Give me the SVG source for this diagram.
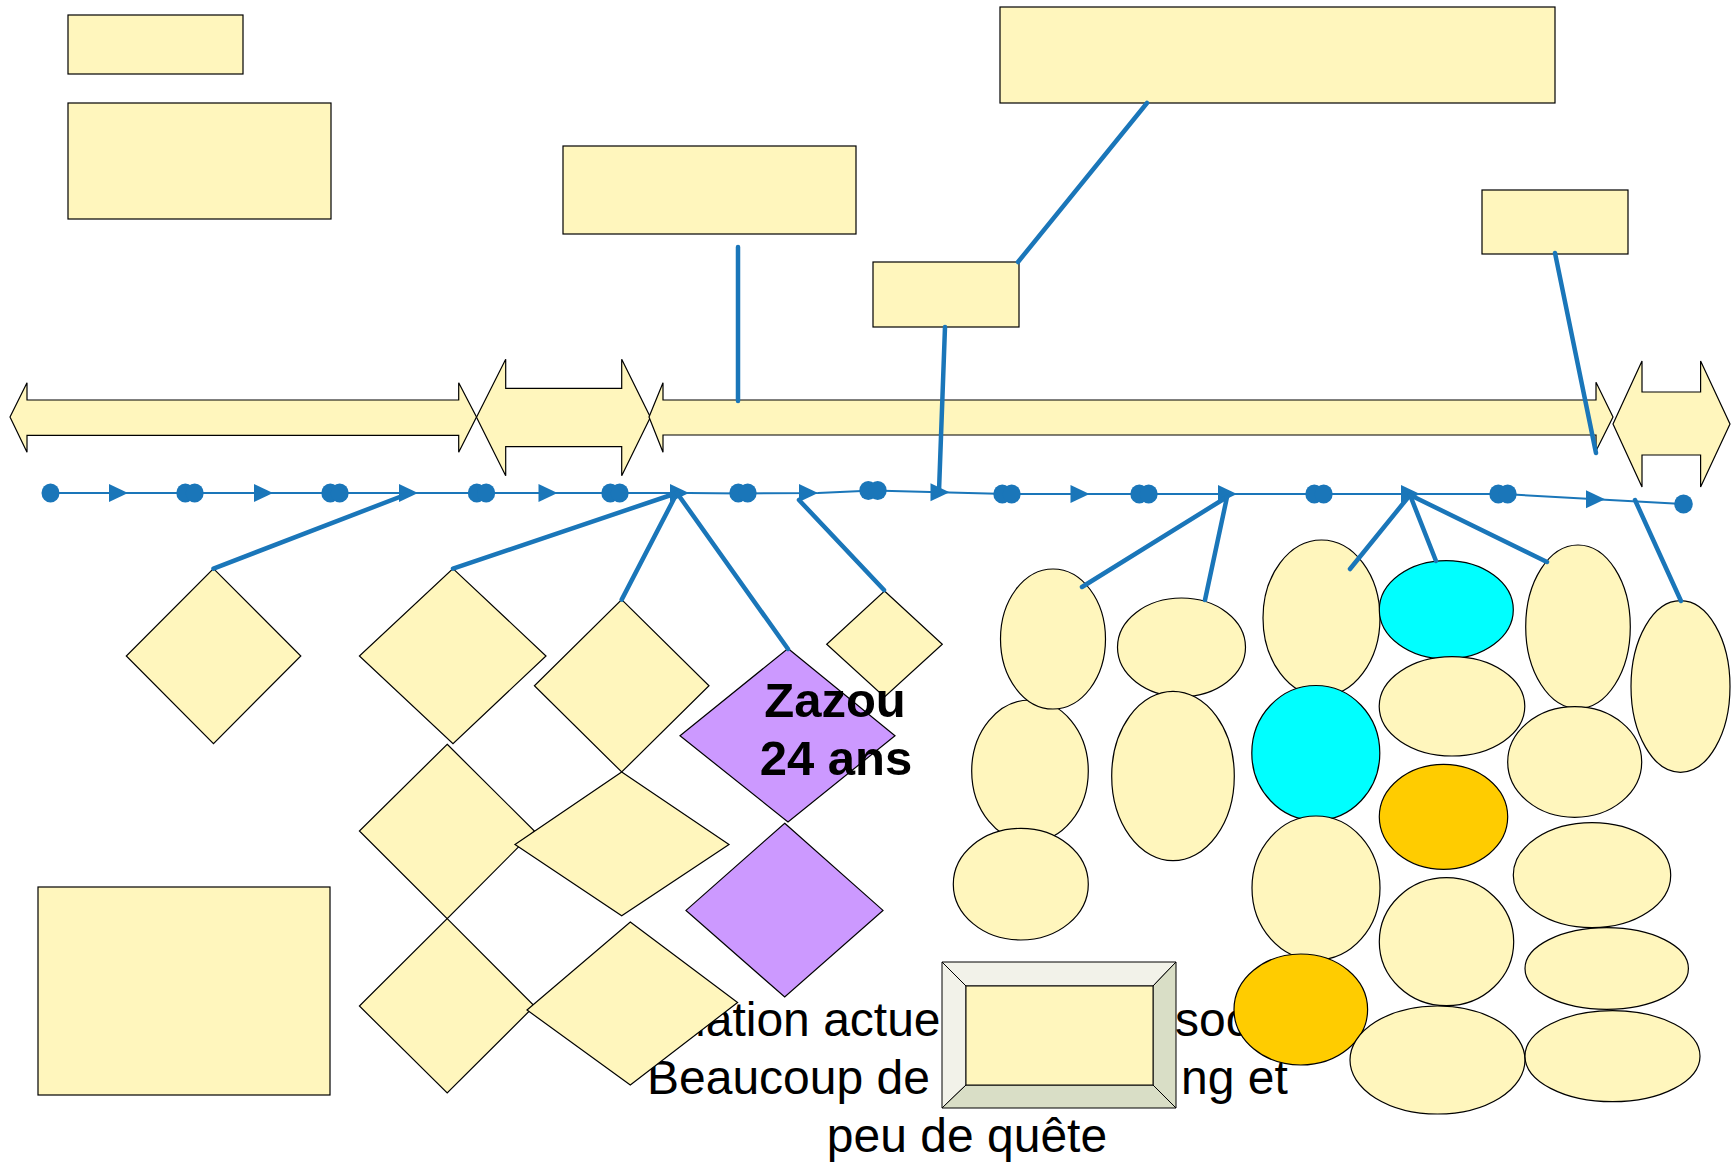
<svg xmlns="http://www.w3.org/2000/svg" width="1732" height="1167" viewBox="0 0 1732 1167">
<style>
.y{fill:#FFF6BD;stroke:#000;stroke-width:1.2}
.p{fill:#CC99FF;stroke:#000;stroke-width:1.2}
.c{fill:#00FFFF;stroke:#000;stroke-width:1.2}
.o{fill:#FFCC00;stroke:#000;stroke-width:1.2}
.con{stroke:#1A76B9;stroke-width:4.5;fill:none;stroke-linecap:round}
.tl{stroke:#1A76B9;stroke-width:2;fill:none}
.mk{fill:#1A76B9}
.t{font-family:"Liberation Sans",Arial,sans-serif;font-size:48px;fill:#000}
.b{font-weight:bold;font-size:49px}
</style>
<defs>
<g id="dd"><ellipse cx="-4.7" cy="0" rx="9" ry="9.5"/><ellipse cx="4.7" cy="0" rx="9" ry="9.5"/></g>
<polygon id="tri" points="0,-9 19,0 0,9"/>
</defs>
<rect width="1732" height="1167" fill="#fff"/>

<g id="text-situation">
<text class="t"><tspan x="623" y="1036">Situation actuelle de la</tspan><tspan x="1175" y="1036">société</tspan><tspan x="647" y="1094">Beaucoup de leveli</tspan><tspan x="1181" y="1094">ng et</tspan><tspan x="967" y="1152" text-anchor="middle">peu de quête</tspan></text>
</g>

<g id="arrows">
<polygon id="arrow-left" class="y" points="10,417 27,382.7 27,400 458.7,400 458.7,382.7 476.5,417 458.7,452.3 458.7,435.3 27,435.3 27,452.3"/>
<polygon id="arrow-mid" class="y" points="476.5,417.3 505.7,359.3 505.7,388.3 621.7,388.3 621.7,359.3 650.4,417.3 621.7,475.7 621.7,446.7 505.7,446.7 505.7,475.7"/>
<polygon id="arrow-long" class="y" points="649,417 663,382.7 663,400 1596,400 1596,382.3 1613,417 1596,451 1596,435 663,435 663,452.3"/>
<polygon id="arrow-right" class="y" points="1613,424 1642,361 1642,392 1700.6,392 1700.6,361 1730,424 1700.6,487 1700.6,455 1642,455 1642,487"/>
</g>

<g id="boxes">
<rect id="r1" class="y" x="68" y="15" width="175" height="59"/>
<rect id="r2" class="y" x="68" y="103" width="263" height="116"/>
<rect id="ra" class="y" x="563" y="146" width="293" height="88"/>
<rect id="rb" class="y" x="873" y="262" width="146" height="65"/>
<rect id="rbig" class="y" x="1000" y="7" width="555" height="96"/>
<rect id="rc" class="y" x="1482" y="190" width="146" height="64"/>
<rect id="rbl" class="y" x="38" y="887" width="292" height="208"/>
</g>

<g id="bevel">
<polygon points="942,962 1176,962 1153,986 966,986" fill="#F2F2E9" stroke="#000" stroke-width="1"/>
<polygon points="942,962 966,986 966,1085 942,1108" fill="#F2F2E9" stroke="#000" stroke-width="1"/>
<polygon points="1176,962 1176,1108 1153,1085 1153,986" fill="#D9DEC6" stroke="#000" stroke-width="1"/>
<polygon points="942,1108 966,1085 1153,1085 1176,1108" fill="#D9DEC6" stroke="#000" stroke-width="1"/>
<rect x="966" y="986" width="187" height="99" fill="#FFF6BD" stroke="#000" stroke-width="1"/>
</g>

<g id="diamonds">
<polygon id="d1" class="y" points="213.5,568.6 300.8,656 213.5,743.6 126.3,656"/>
<polygon id="d2" class="y" points="453,568.6 546,656 453,743.6 359.4,656"/>
<polygon id="d3" class="y" points="621.7,599.6 709,685.7 621.7,772 534.4,685.7"/>
<polygon id="dsmall" class="y" points="884.5,591 942.3,644.3 884.5,697 826.7,644.3"/>
<polygon id="zazou" class="p" points="788,648.5 895,735.7 788,822 680,735.7"/>
<polygon id="d4" class="y" points="447.2,744.3 534.4,831 447.2,918.6 359.4,831"/>
<polygon id="d5" class="y" points="621.7,772 729,844.6 621.7,915.7 515,844.6"/>
<polygon id="purple2" class="p" points="784.7,823.2 883,910.4 784.7,997 686,910.4"/>
<polygon id="d6" class="y" points="447.2,918.6 534.4,1006 447.2,1093 359.4,1006"/>
<polygon id="d7" class="y" points="630.3,922 737.6,1002.5 630.3,1085 527,1010"/>
</g>

<g id="ellipses">
<ellipse id="e2" class="y" cx="1181.5" cy="647.3" rx="64" ry="49.3"/>
<ellipse id="e7" class="y" cx="1173" cy="776" rx="61.3" ry="84.7"/>
<ellipse id="e3" class="y" cx="1321.5" cy="618" rx="58.5" ry="78"/>
<ellipse id="cyan2" class="c" cx="1315.8" cy="753" rx="64" ry="67.5"/>
<ellipse id="e11" class="y" cx="1316" cy="888" rx="64" ry="72"/>
<ellipse id="orange2" class="o" cx="1300.8" cy="1009.5" rx="66.8" ry="55.5"/>
<ellipse id="e6" class="y" cx="1030" cy="771" rx="58.3" ry="71"/>
<ellipse id="e1" class="y" cx="1053" cy="639" rx="52.5" ry="70"/>
<ellipse id="e10" class="y" cx="1020.8" cy="884.2" rx="67.5" ry="55.8"/>
<ellipse id="cyan1" class="c" cx="1446.3" cy="609.8" rx="67" ry="49.2"/>
<ellipse id="e8" class="y" cx="1452" cy="706.3" rx="72.8" ry="49.7"/>
<ellipse id="orange1" class="o" cx="1443.5" cy="816.8" rx="64.2" ry="52.5"/>
<ellipse id="e13" class="y" cx="1446.5" cy="941.7" rx="67.2" ry="64"/>
<ellipse id="e4" class="y" cx="1578" cy="626.7" rx="52.3" ry="81.7"/>
<ellipse id="e9" class="y" cx="1574.7" cy="762" rx="67" ry="55.3"/>
<ellipse id="e12" class="y" cx="1592" cy="875.2" rx="78.7" ry="52.5"/>
<ellipse id="e14" class="y" cx="1606.7" cy="968.5" rx="81.7" ry="40.8"/>
<ellipse id="e5" class="y" cx="1680.5" cy="686.5" rx="49.5" ry="85.8"/>
<ellipse id="e15" class="y" cx="1437.5" cy="1060" rx="87.5" ry="54"/>
<ellipse id="e16" class="y" cx="1612.5" cy="1056.2" rx="87.5" ry="45.5"/>
</g>

<g id="connectors">
<polyline class="tl" points="50.5,493 689,493 743,493.5 818,493 873,490.5 949,492.5 1007,494 1503,494 1596,499.3 1683,504"/>
<g class="mk">
<ellipse cx="50.5" cy="493" rx="9" ry="9.5"/>
<ellipse cx="1683.5" cy="504" rx="9.3" ry="9.5"/>
<use href="#dd" x="190" y="493"/>
<use href="#dd" x="335" y="493"/>
<use href="#dd" x="481.5" y="493"/>
<use href="#dd" x="615" y="493"/>
<use href="#dd" x="743" y="493"/>
<use href="#dd" x="873" y="490.5"/>
<use href="#dd" x="1007" y="494"/>
<use href="#dd" x="1144" y="494"/>
<use href="#dd" x="1319" y="494"/>
<use href="#dd" x="1503" y="494"/>
<use href="#tri" x="109" y="493"/>
<use href="#tri" x="254" y="493"/>
<use href="#tri" x="399" y="493"/>
<use href="#tri" x="538.5" y="493"/>
<use href="#tri" x="670" y="493"/>
<use href="#tri" x="799" y="493"/>
<use href="#tri" x="930.5" y="492.3"/>
<use href="#tri" x="1070.5" y="494"/>
<use href="#tri" x="1218" y="494"/>
<use href="#tri" x="1401" y="494"/>
<use href="#tri" x="1586" y="499.3"/>
</g>
<line class="con" x1="213.5" y1="568.6" x2="410" y2="493"/>
<line class="con" x1="453" y1="568.6" x2="677" y2="493"/>
<line class="con" x1="621.7" y1="599.6" x2="677" y2="493"/>
<line class="con" x1="788" y1="649" x2="677" y2="493"/>
<line class="con" x1="884" y1="590" x2="799" y2="500"/>
<line class="con" x1="1082" y1="587" x2="1227" y2="497"/>
<line class="con" x1="1205" y1="600" x2="1227" y2="497"/>
<line class="con" x1="1350" y1="569" x2="1410" y2="495"/>
<line class="con" x1="1436" y1="561" x2="1410" y2="495"/>
<line class="con" x1="1547" y1="562" x2="1410" y2="495"/>
<line class="con" x1="1681" y1="601" x2="1635" y2="500"/>
<line class="con" x1="738" y1="247" x2="738" y2="401"/>
<line class="con" x1="945" y1="327" x2="939" y2="491"/>
<line class="con" x1="1018" y1="262" x2="1147" y2="103"/>
<line class="con" x1="1555" y1="253" x2="1596" y2="453"/>
</g>

<g id="label-zazou">
<text class="t b" text-anchor="middle"><tspan x="835" y="717">Zazou</tspan><tspan x="836" y="775">24 ans</tspan></text>
</g>
</svg>
